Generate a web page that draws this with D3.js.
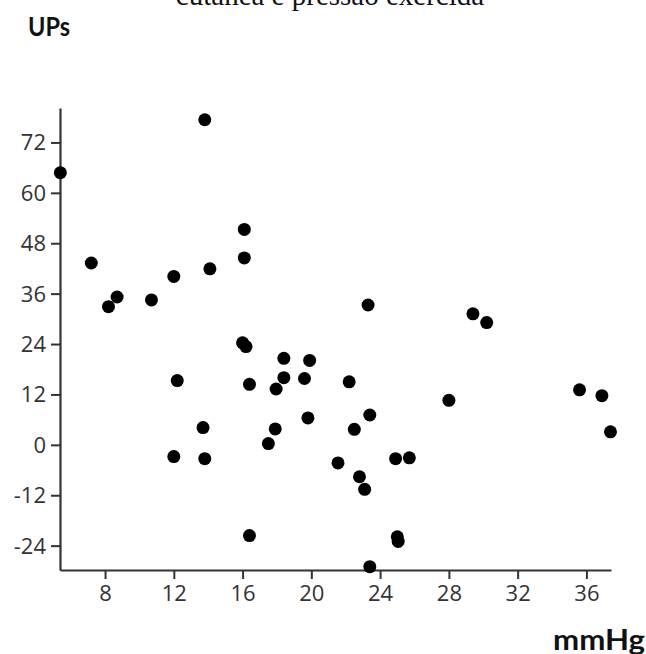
<!DOCTYPE html>
<html>
<head>
<meta charset="utf-8">
<script src="https://cdn.jsdelivr.net/npm/d3@7"></script>
<style>
  html, body { margin: 0; padding: 0; background: #fff; }
  svg { display: block; }
</style>
</head>
<body>
<svg id="chart" width="646" height="654"></svg>
<script>
// ---- data ----
const titleText = "cutânea e pressão exercida";
const yAxisLabel = "UPs";
const xAxisLabel = "mmHg";
const xTicks = [8, 12, 16, 20, 24, 28, 32, 36];
const yTicks = [-24, -12, 0, 12, 24, 36, 48, 60, 72];
const xValues = [5.4, 7.2, 8.2, 8.7, 10.7, 12.0, 13.8, 14.1, 16.1, 16.1, 16.0, 16.2,
                 12.2, 12.0, 13.7, 13.8, 16.4, 16.4, 18.4, 18.4, 17.95, 19.6, 19.9, 19.8,
                 17.9, 17.5, 21.55, 22.2, 22.5, 23.4, 23.3, 22.8, 23.1, 24.9, 25.7, 25.0,
                 25.05, 23.4, 28.0, 29.4, 30.2, 35.6, 36.9, 37.4];
const yValues = [64.8, 43.3, 32.9, 35.2, 34.5, 40.1, 77.4, 41.9, 51.3, 44.5, 24.3, 23.4,
                 15.3, -2.8, 4.1, -3.3, 14.4, -21.6, 20.6, 16.0, 13.3, 15.8, 20.1, 6.4,
                 3.8, 0.3, -4.3, 15.0, 3.7, 7.1, 33.3, -7.6, -10.6, -3.3, -3.1, -21.9,
                 -23.0, -29.0, 10.6, 31.2, 29.1, 13.1, 11.7, 3.1];

// ---- layout ----
const svg = d3.select("#chart");
const x = d3.scaleLinear().domain([5.38, 37.43]).range([60, 611]);
const y = d3.scaleLinear().domain([-29.8, 80.2]).range([570, 108]);
const axisColor = "#333";
const tickFont = "'Open Sans', 'DejaVu Sans', sans-serif";
const fmt = d => String(d); // plain hyphen-minus, as in the reference

// title (partially cut off at the top, as in the reference)
svg.append("text")
  .attr("x", 330).attr("y", 5)
  .attr("text-anchor", "middle")
  .attr("font-family", "'Liberation Serif', 'Times New Roman', serif")
  .attr("font-size", 29)
  .attr("fill", "#111")
  .text(titleText);

// y axis label
svg.append("text")
  .attr("x", 28).attr("y", 36)
  .attr("font-family", "'Lato', 'Open Sans', sans-serif")
  .attr("font-weight", "bold")
  .attr("font-size", 27)
  .attr("textLength", 42).attr("lengthAdjust", "spacingAndGlyphs")
  .attr("fill", "#111")
  .text(yAxisLabel);

// x axis label
svg.append("text")
  .attr("x", 553).attr("y", 650)
  .attr("font-family", "'Lato', 'Open Sans', sans-serif")
  .attr("font-weight", "bold")
  .attr("font-size", 28)
  .attr("textLength", 92).attr("lengthAdjust", "spacingAndGlyphs")
  .attr("fill", "#111")
  .text(xAxisLabel);

// axes
const xAxis = d3.axisBottom(x).tickValues(xTicks).tickFormat(fmt).tickSize(9).tickSizeOuter(0).tickPadding(6);
const yAxis = d3.axisLeft(y).tickValues(yTicks).tickFormat(fmt).tickSize(9).tickSizeOuter(0).tickPadding(5);

const gx = svg.append("g").attr("transform", `translate(0,${y.range()[0]})`).call(xAxis);
const gy = svg.append("g").attr("transform", `translate(${x.range()[0]},0)`).call(yAxis);

[gx, gy].forEach(g => {
  g.select(".domain").attr("stroke", axisColor).attr("stroke-width", 2.2);
  g.selectAll(".tick line").attr("stroke", axisColor).attr("stroke-width", 2);
  g.selectAll(".tick text")
    .attr("fill", "#333")
    .attr("font-family", tickFont)
    .attr("font-size", 22);
});
gx.selectAll(".tick text").attr("dy", "0.72em");
gy.selectAll(".tick text").attr("dy", "0.34em");

// points
svg.append("g")
  .selectAll("circle")
  .data(xValues.map((v, i) => [v, yValues[i]]))
  .join("circle")
  .attr("cx", d => x(d[0]))
  .attr("cy", d => y(d[1]))
  .attr("r", 6.5)
  .attr("fill", "#000");
</script>
</body>
</html>
